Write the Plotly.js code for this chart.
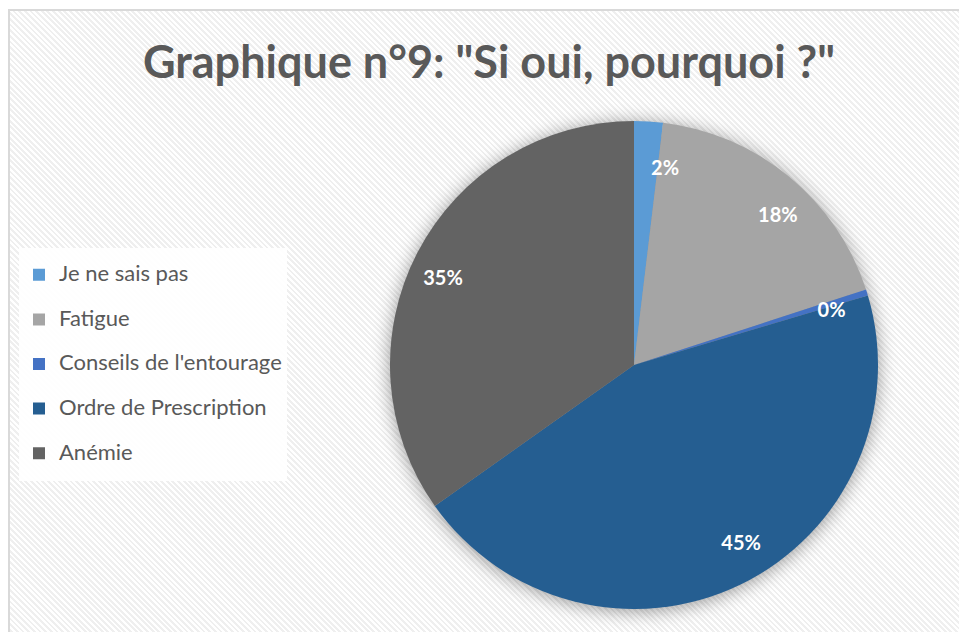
<!DOCTYPE html>
<html>
<head>
<meta charset="utf-8">
<script src="https://cdn.plot.ly/plotly-3.0.1.min.js"></script>
<style>
  html, body { margin: 0; padding: 0; background: #ffffff; }
  #wrap { position: relative; width: 959px; height: 632px; overflow: hidden; background: #ffffff; }
  #frame {
    position: absolute; left: 8px; top: 9px; width: 960px; height: 640px;
    border-left: 2px solid #d9d9d9; border-top: 2px solid #d9d9d9;
    background: repeating-linear-gradient(45deg, #ffffff 0px, #ffffff 2px, #efefef 2px, #efefef 4px);
  }
  #chart { position: absolute; left: 0; top: 0; width: 959px; height: 632px; }
  .pielayer > g.trace:first-of-type { filter: drop-shadow(0px 2px 9px rgba(0,0,0,0.4)); }
</style>
</head>
<body>
<div id="wrap">
  <div id="frame"></div>
  <div id="chart"></div>
</div>
<script>
const categories = ["Je ne sais pas", "Fatigue", "Conseils de l'entourage", "Ordre de Prescription", "Anémie"];
const values = [1.9, 18.1, 0.4, 44.8, 34.8];
const colors = ["#5B9BD5", "#A5A5A5", "#4472C4", "#255E91", "#636363"];
const titleText = 'Graphique n°9: "Si oui, pourquoi ?"';

const legendLabels = categories.map(c => '<span style="font-size:22px;baseline-shift:6px">' + c + '</span>');

// Slices (with legend)
const pieTrace = {
  type: 'pie',
  labels: legendLabels,
  values: values,
  sort: false,
  direction: 'clockwise',
  rotation: 0,
  marker: { colors: colors, line: { width: 0 } },
  textposition: 'none',
  domain: { x: [390/959, 878/959], y: [23/632, 511/632] },
  hoverinfo: 'none'
};

// Percentage labels, placed nearer the rim like the original
const labelTrace = {
  type: 'pie',
  labels: categories,
  values: values,
  sort: false,
  direction: 'clockwise',
  rotation: 0,
  showlegend: false,
  marker: { colors: categories.map(() => 'rgba(0,0,0,0)'), line: { width: 0 } },
  texttemplate: '%{percent:.0%}',
  textposition: 'outside',
  automargin: false,
  outsidetextfont: { family: 'Lato', size: 20, color: '#ffffff', weight: 'bold' },
  domain: { x: [448/959, 820/959], y: [81/632, 453/632] },
  hoverinfo: 'none'
};

const layout = {
  width: 959, height: 632,
  margin: { l: 0, r: 0, t: 0, b: 0 },
  paper_bgcolor: 'rgba(0,0,0,0)',
  plot_bgcolor: 'rgba(0,0,0,0)',
  title: {
    text: titleText,
    x: 489/959, xanchor: 'center',
    y: 1 - 62/632, yanchor: 'middle',
    font: { family: 'Lato', size: 45, color: '#595959', weight: 'bold' }
  },
  showlegend: true,
  legend: {
    x: 19/959, xanchor: 'left',
    y: 1 - 364/632, yanchor: 'middle',
    bgcolor: 'rgba(255,255,255,0.92)',
    borderwidth: 0,
    font: { family: 'Lato', size: 32, color: '#595959' },
    traceorder: 'normal'
  }
};

Plotly.newPlot('chart', [pieTrace, labelTrace], layout, { displayModeBar: false, staticPlot: true });
</script>
</body>
</html>
